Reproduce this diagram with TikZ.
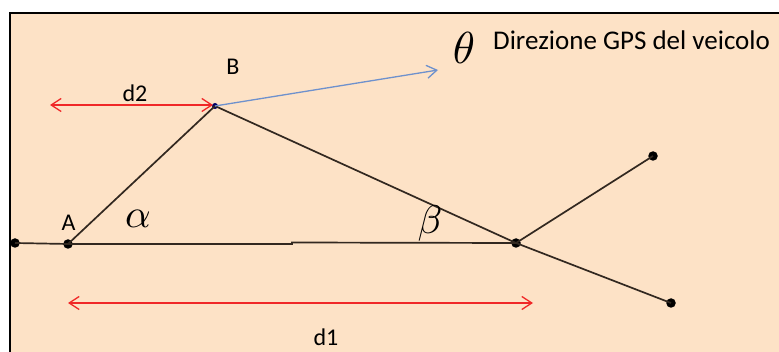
\documentclass[tikz,border=0pt]{standalone}
\usepackage{fontspec}
\setmainfont{Carlito}
\usetikzlibrary{arrows.meta}
\definecolor{peach}{RGB}{253,226,198}
\definecolor{edgecol}{RGB}{50,40,32}
\definecolor{redarr}{RGB}{240,40,40}
\definecolor{bluearr}{RGB}{110,145,205}
\tikzset{
  dot/.style={circle,fill=black,inner sep=0pt,minimum size=9.5pt},
  smalldot/.style={circle,fill=black!60!blue,inner sep=0pt,minimum size=6pt},
  edge/.style={draw=edgecol,line width=1.7pt},
  dim/.style={draw=redarr,line width=1.3pt,{Straight Barb[length=10pt,width=13pt]}-{Straight Barb[length=10pt,width=13pt]}},
  lbl/.style={font=\fontsize{24}{28}\selectfont,inner sep=0pt},
  greek/.style={inner sep=0pt,scale=4,transform shape}
}
\begin{document}
\begin{tikzpicture}[x=1pt,y=-1pt]
\useasboundingbox (0,0) rectangle (779,352);
\clip (0,0) rectangle (779,352);
\fill[white] (0,0) rectangle (779,352);
\draw[fill=peach,line width=2.5pt] (10,13) rectangle (800,370);
% points
\node[dot] (L) at (15,243) {};
\node[dot] (A) at (68,244) {};
\node[smalldot] (B) at (215,106) {};
\node[dot] (C) at (516,243) {};
\node[dot] (U) at (653,156) {};
\node[dot] (D) at (671,303) {};
\coordinate (S1) at (292,244);
\coordinate (S2) at (292,242.5);
\coordinate (G) at (438,70);
\coordinate (d2l) at (50,105);
\coordinate (d2r) at (213,105);
\coordinate (d1l) at (68,303);
\coordinate (d1r) at (533,303);
% edges
\draw[edge] (L.center) -- (A.center);
\draw[edge] (A.center) -- (S1) -- (S2) -- (C.center);
\draw[edge] (A.center) -- (B.center);
\draw[edge] (B.center) -- (C.center);
\draw[edge] (C.center) -- (U.center);
\draw[edge] (C.center) -- (D.center);
\draw[draw=bluearr,line width=1.3pt,-{Straight Barb[length=10pt,width=13pt]}] (B.center) -- (G);
\draw[dim] (d2l) -- (d2r);
\draw[dim] (d1l) -- (d1r);
% labels
\node[lbl] (lA) at (68.5,223) {A};
\node[lbl] (lB) at (233,67) {B};
\node[lbl] (ld2) at (135,93) {d2};
\node[lbl] (ld1) at (326,337) {d1};
\node[greek] (al) at (138,219) {$\alpha$};
\node[greek] (be) at (430,224) {$\beta$};
\node[greek,scale=1.12] (th) at (464,47.5) {$\theta$};
\node[font=\fontsize{27}{30}\selectfont,inner sep=0pt,anchor=base west] (dir) at (493,50) {Direzione GPS del veicolo};
\end{tikzpicture}
\end{document}
